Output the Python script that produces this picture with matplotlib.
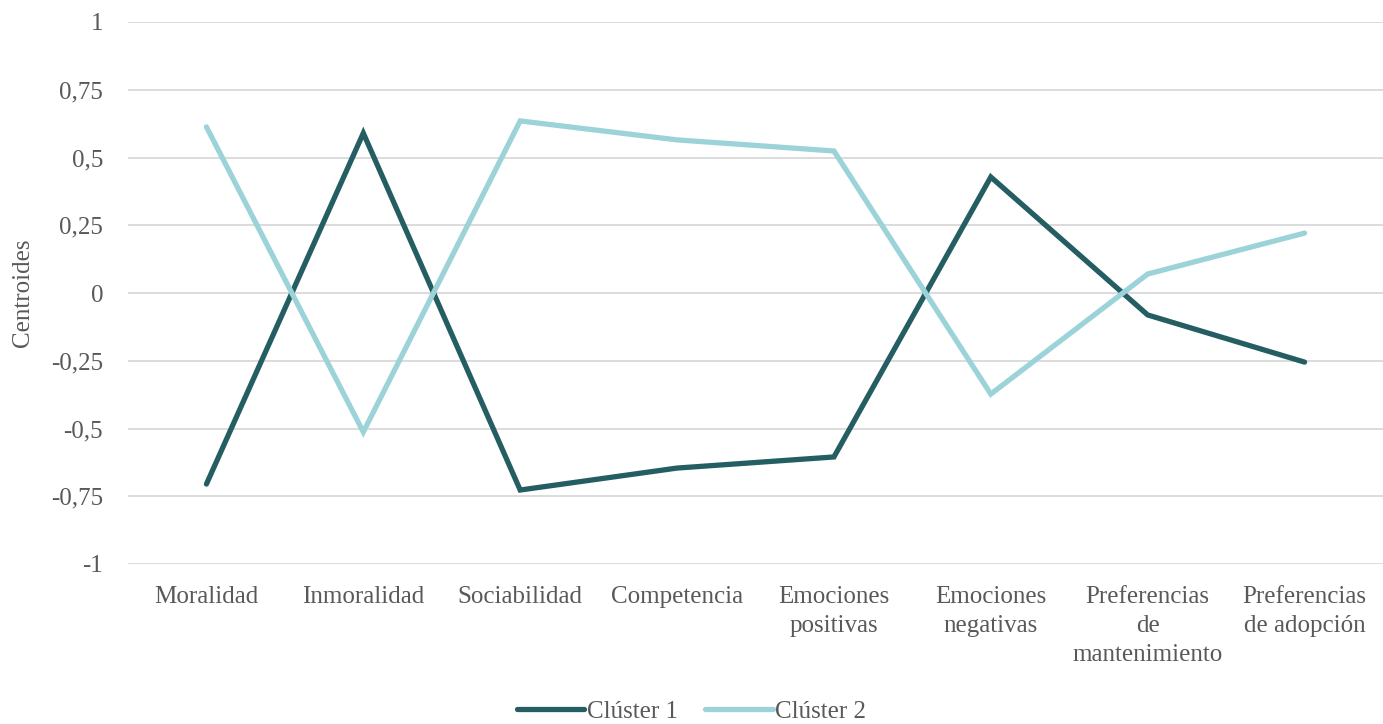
import matplotlib
matplotlib.use("Agg")
import matplotlib.pyplot as plt

categories = ["Moralidad", "Inmoralidad", "Sociabilidad", "Competencia",
              "Emociones\npositivas", "Emociones\nnegativas",
              "Preferencias\nde\nmantenimiento", "Preferencias\nde adopción"]
cluster1 = [-0.705, 0.590, -0.727, -0.646, -0.605, 0.428, -0.081, -0.255]
cluster2 = [0.613, -0.513, 0.635, 0.565, 0.524, -0.373, 0.070, 0.221]
yticks = [-1, -0.75, -0.5, -0.25, 0, 0.25, 0.5, 0.75, 1]
ytick_labels = ["-1", "-0,75", "-0,5", "-0,25", "0", "0,25", "0,5", "0,75", "1"]

text_color = "#595959"
fs = 18
plt.rcParams["font.family"] = ["Liberation Serif", "DejaVu Serif"]

fig = plt.figure(figsize=(13.83, 7.24), dpi=100)
ax = fig.add_axes([128 / 1383, 1 - 564 / 724, 1 - 128 / 1383, (564 - 22) / 724])

x = list(range(len(categories)))
ax.plot(x, cluster1, color="#245E63", lw=3.8, solid_capstyle="round",
        solid_joinstyle="miter", label="Clúster 1", zorder=3)
ax.plot(x, cluster2, color="#9BD3D9", lw=3.8, solid_capstyle="round",
        solid_joinstyle="miter", label="Clúster 2", zorder=3)

ax.set_xlim(-0.5, len(categories) - 0.5)
ax.set_ylim(-1, 1)
ax.set_yticks(yticks)
ax.set_yticklabels(ytick_labels)
ax.set_xticks(x)
ax.set_xticklabels(categories, linespacing=1.4)
ax.grid(axis="y", color="#D9D9D9", lw=1.3)
ax.set_axisbelow(True)
for s in ax.spines.values():
    s.set_visible(False)
ax.tick_params(axis="both", length=0, labelsize=fs, colors=text_color)
ax.tick_params(axis="y", pad=18)
ax.tick_params(axis="x", pad=16)
ax.set_ylabel("Centroides", fontsize=fs, color=text_color)
ax.yaxis.set_label_coords(-0.075, 0.5)

leg = fig.legend(loc="lower center", bbox_to_anchor=(0.5, -0.03), ncol=2,
                 frameon=False, fontsize=fs, handlelength=2.7,
                 handletextpad=0.1, columnspacing=1.1)
for t in leg.get_texts():
    t.set_color(text_color)

fig.savefig("out.png", dpi=100)
